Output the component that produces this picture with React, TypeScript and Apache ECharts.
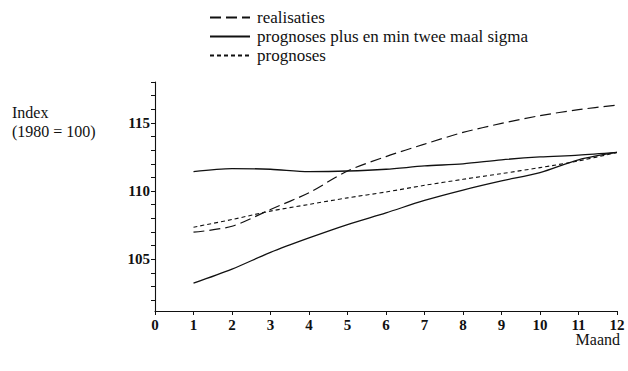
import React, { useEffect, useRef } from "react";
import * as echarts from "echarts";

const months = [1, 2, 3, 4, 5, 6, 7, 8, 9, 10, 11, 12];
const realisaties = [106.98, 107.42, 108.65, 109.88, 111.47, 112.53, 113.44, 114.3, 114.96, 115.53, 115.97, 116.31];
const sigmaUpper = [111.43, 111.65, 111.6, 111.43, 111.47, 111.6, 111.84, 112.0, 112.29, 112.5, 112.63, 112.83];
const sigmaLower = [103.24, 104.27, 105.5, 106.56, 107.54, 108.4, 109.31, 110.07, 110.74, 111.35, 112.29, 112.83];
const prognoses = [107.35, 107.91, 108.53, 109.02, 109.5, 109.93, 110.42, 110.86, 111.28, 111.72, 112.21, 112.83];
const yMinorTicks = [102, 103, 104, 105, 106, 107, 108, 109, 110, 111, 112, 113, 114, 115, 116, 117, 118];
const yLabels = [105, 110, 115];

const names = {
  real: "realisaties",
  sigma: "prognoses plus en min twee maal sigma",
  prog: "prognoses",
};

const FONT = "Liberation Serif";
const INK = "#111";

export default function App() {
  const ref = useRef<HTMLDivElement>(null);
  useEffect(() => {
    document.body.style.margin = "0";
    const chart = echarts.init(ref.current!, null, { renderer: "svg" });
    const pair = (arr: number[]) => months.map((m, i) => [m, arr[i]]);
    const base = {
      type: "line",
      symbol: "none",
      smooth: 0.3,
      z: 3,
      itemStyle: { color: INK },
    };
    chart.setOption({
      animation: false,
      backgroundColor: "#fff",
      textStyle: { fontFamily: FONT, color: INK },
      grid: { left: 155, right: 11, top: 82, bottom: 60 },
      legend: {
        orient: "vertical",
        left: 204,
        top: 4,
        itemWidth: 40,
        itemHeight: 10,
        itemGap: 2,
        itemStyle: { opacity: 0 },
        data: [names.real, names.sigma, names.prog],
        textStyle: { fontFamily: FONT, fontSize: 17, lineHeight: 17, color: INK, padding: [0, 0, 0, 2] },
        selectedMode: false,
      },
      xAxis: {
        type: "value",
        min: 0,
        max: 12,
        interval: 1,
        axisLine: { lineStyle: { color: INK, width: 1.1 } },
        axisTick: { length: 4, lineStyle: { color: INK } },
        splitLine: { show: false },
        axisLabel: {
          fontFamily: FONT,
          fontSize: 15,
          fontWeight: "bold",
          color: INK,
          margin: 6,
        },
      },
      yAxis: {
        type: "value",
        min: 101.2,
        max: 118,
        axisLine: { show: true, lineStyle: { color: INK, width: 1.1 } },
        axisTick: { show: true, length: 4, customValues: yMinorTicks, lineStyle: { color: INK } },
        splitLine: { show: false },
        axisLabel: {
          customValues: yLabels,
          fontFamily: FONT,
          fontSize: 15,
          fontWeight: "bold",
          color: INK,
          margin: 5,
          verticalAlign: "middle",
          padding: [0, 0, 7, 0],
        },
      },
      graphic: [
        {
          type: "text",
          left: 12,
          top: 103,
          style: {
            text: "Index\n(1980 = 100)",
            fontFamily: FONT,
            fontSize: 16,
            lineHeight: 19,
            fill: INK,
          },
        },
        {
          type: "text",
          right: 8,
          top: 331,
          style: { text: "Maand", fontFamily: FONT, fontSize: 16, fill: INK },
        },
      ],
      series: [
        { ...base, name: names.real, data: pair(realisaties), lineStyle: { color: INK, width: 1.2, type: [11, 5] } },
        { ...base, name: names.sigma, data: pair(sigmaUpper), lineStyle: { color: INK, width: 1.3, type: "solid" } },
        { ...base, name: names.sigma, data: pair(sigmaLower), lineStyle: { color: INK, width: 1.3, type: "solid" } },
        { ...base, name: names.prog, data: pair(prognoses), lineStyle: { color: INK, width: 1.1, type: [4, 3] } },
      ],
    });
    return () => chart.dispose();
  }, []);
  return <div ref={ref} style={{ width: 628, height: 371 }} />;
}
